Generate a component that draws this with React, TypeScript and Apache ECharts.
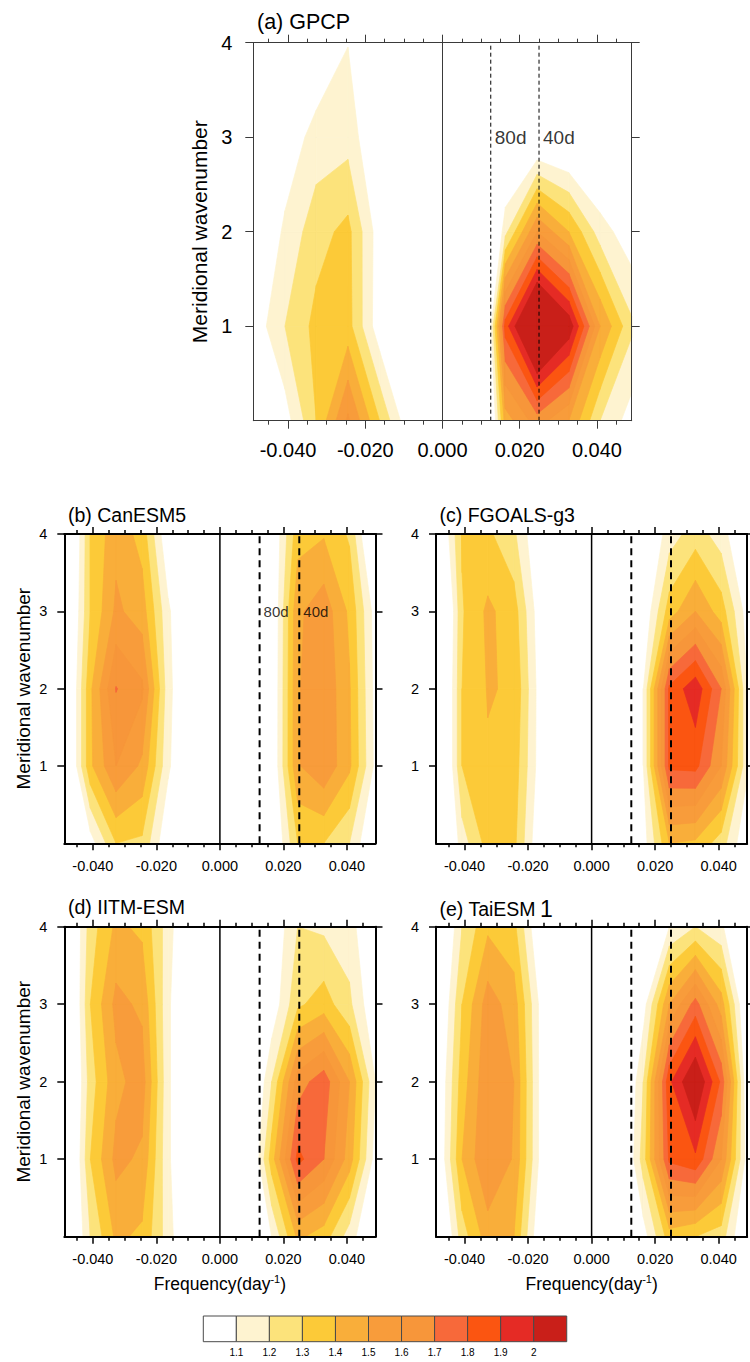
import React, { useEffect, useRef } from "react";
import * as echarts from "echarts";

// ---------------- data ----------------
// frequency grid (day^-1) and meridional wavenumber grid
const freqs = [-0.049, -0.0408, -0.0327, -0.0245, -0.0163, -0.0082, 0, 0.0082, 0.0163, 0.0245, 0.0327, 0.0408, 0.049];
const wavenumbers = [0, 1, 2, 3, 4];

// contour levels and fill colours (colour i fills values between levels[i-1] and levels[i])
const levels = [1.1, 1.2, 1.3, 1.4, 1.5, 1.6, 1.7, 1.8, 1.9, 2.0];
const levelLabels = ["1.1", "1.2", "1.3", "1.4", "1.5", "1.6", "1.7", "1.8", "1.9", "2"];
const bandColors = ["#FFFFFF", "#FEF3D0", "#FCE37B", "#FCCA38", "#F9AE3A", "#F89C3B", "#F7963A", "#F7693A", "#FB5511", "#E52B25", "#C91F19"];

const periods = [80, 40];
const xMajorTicks = [-0.04, -0.02, 0, 0.02, 0.04];
const xMinorTicks = [-0.045, -0.035, -0.03, -0.025, -0.015, -0.01, -0.005, 0.005, 0.01, 0.015, 0.025, 0.03, 0.035, 0.045];
const yTicks = [1, 2, 3, 4];

// power ratio fields: rows = wavenumber 0..4, columns = freqs
const gpcp = [
  [0.90, 1.05, 1.30, 1.62, 1.30, 1.00, 0.80, 0.35, 1.45, 1.65, 1.50, 1.20, 1.05],
  [1.03, 1.20, 1.33, 1.34, 1.03, 0.90, 0.80, 0.20, 1.85, 2.35, 2.08, 1.50, 1.22],
  [0.95, 1.12, 1.26, 1.33, 1.04, 0.90, 0.80, 0.50, 1.17, 1.60, 1.40, 1.15, 1.03],
  [0.90, 1.03, 1.14, 1.16, 0.98, 0.90, 0.80, 0.80, 0.90, 0.94, 0.92, 0.90, 0.90],
  [0.90, 0.95, 1.00, 1.097, 0.95, 0.90, 0.80, 0.80, 0.85, 0.85, 0.85, 0.85, 0.85],
];
const canesm5 = [
  [0.80, 1.05, 1.30, 1.28, 1.00, 0.85, 0.80, 0.80, 0.95, 1.30, 1.30, 1.20, 0.95],
  [0.85, 1.38, 1.60, 1.48, 1.12, 0.90, 0.80, 0.80, 0.98, 1.49, 1.58, 1.42, 1.07],
  [0.85, 1.38, 1.705, 1.62, 1.14, 0.90, 0.80, 0.80, 0.977, 1.49, 1.58, 1.41, 1.06],
  [0.85, 1.30, 1.52, 1.45, 1.12, 0.90, 0.80, 0.80, 0.97, 1.48, 1.56, 1.38, 1.05],
  [0.80, 1.30, 1.47, 1.36, 1.00, 0.90, 0.80, 0.80, 0.98, 1.36, 1.39, 1.285, 0.87],
];
const fgoals = [
  [0.80, 1.15, 1.34, 1.33, 1.00, 0.85, 0.80, 0.85, 1.05, 1.40, 1.38, 1.25, 1.00],
  [0.75, 1.30, 1.39, 1.36, 1.05, 0.90, 0.80, 0.85, 1.10, 1.82, 1.83, 1.60, 1.12],
  [0.75, 1.30, 1.406, 1.39, 1.05, 0.90, 0.80, 0.80, 1.10, 1.82, 1.97, 1.70, 1.10],
  [0.70, 1.29, 1.42, 1.35, 1.03, 0.90, 0.80, 0.80, 1.00, 1.35, 1.50, 1.35, 1.05],
  [0.90, 1.31, 1.32, 1.22, 0.98, 0.90, 0.80, 0.80, 0.95, 1.15, 1.25, 1.15, 0.95],
];
const iitm = [
  [0.85, 1.20, 1.42, 1.38, 1.15, 0.90, 0.80, 0.85, 1.10, 1.42, 1.35, 1.15, 0.95],
  [0.80, 1.30, 1.53, 1.48, 1.12, 0.90, 0.80, 0.85, 1.35, 1.83, 1.70, 1.45, 1.05],
  [0.80, 1.25, 1.47, 1.55, 1.12, 0.90, 0.80, 0.85, 1.20, 1.65, 1.76, 1.50, 1.10],
  [0.80, 1.30, 1.53, 1.48, 1.12, 0.90, 0.80, 0.85, 1.02, 1.28, 1.35, 1.22, 1.00],
  [0.85, 1.25, 1.42, 1.38, 1.15, 0.90, 0.80, 0.85, 1.00, 1.20, 1.18, 1.15, 0.95],
];
const taiesm1 = [
  [0.85, 1.25, 1.45, 1.40, 1.00, 0.90, 0.80, 0.85, 1.05, 1.35, 1.30, 1.25, 0.95],
  [0.95, 1.40, 1.60, 1.49, 1.08, 0.90, 0.80, 0.85, 1.25, 1.82, 1.88, 1.60, 1.05],
  [0.95, 1.35, 1.58, 1.50, 1.08, 0.90, 0.80, 0.85, 1.20, 1.88, 2.12, 1.78, 1.00],
  [0.90, 1.30, 1.55, 1.45, 1.08, 0.90, 0.80, 0.85, 1.05, 1.50, 1.74, 1.45, 0.95],
  [0.85, 1.20, 1.38, 1.33, 0.98, 0.90, 0.80, 0.85, 0.90, 1.10, 1.20, 1.12, 0.90],
];

const FONT = "'Liberation Sans', Arial, Helvetica, sans-serif";

type Panel = {
  title: string;
  values: number[][];
  box: [number, number, number, number];
  titlePos: [number, number];
  big: boolean;
  yName: boolean;
  xName: boolean;
  periodLabels: boolean;
};

const panels: Panel[] = [
  { title: "(a) GPCP", values: gpcp, box: [253.3, 42.7, 378.4, 378], titlePos: [257, 11], big: true, yName: true, xName: false, periodLabels: true },
  { title: "(b) CanESM5", values: canesm5, box: [64.3, 534, 311.2, 309.3], titlePos: [68, 505], big: false, yName: true, xName: false, periodLabels: true },
  { title: "(c) FGOALS-g3", values: fgoals, box: [436, 534, 311.2, 309.3], titlePos: [439.5, 505], big: false, yName: false, xName: false, periodLabels: false },
  { title: "(d) IITM-ESM", values: iitm, box: [64.3, 926.7, 311.2, 310], titlePos: [68, 897], big: false, yName: true, xName: true, periodLabels: false },
  { title: "(e) TaiESM{one|1}", values: taiesm1, box: [436, 926.7, 311.2, 310], titlePos: [439.5, 897], big: false, yName: false, xName: true, periodLabels: false },
];

function contourItems(values: number[][]) {
  const items: number[][] = [];
  levels.forEach((L, li) => {
    for (let j = 0; j < wavenumbers.length - 1; j++) {
      for (let i = 0; i < freqs.length - 1; i++) {
        const c = [values[j][i], values[j][i + 1], values[j + 1][i + 1], values[j + 1][i]];
        if (Math.max(...c) >= L) {
          items.push([(freqs[i] + freqs[i + 1]) / 2, (wavenumbers[j] + wavenumbers[j + 1]) / 2, i, j, li]);
        }
      }
    }
  });
  return items;
}

function makeRenderItem(values: number[][]) {
  return (params: any, api: any) => {
    const i = api.value(2);
    const j = api.value(3);
    const li = api.value(4);
    const L = levels[li];
    const corners = [
      [freqs[i], wavenumbers[j], values[j][i]],
      [freqs[i + 1], wavenumbers[j], values[j][i + 1]],
      [freqs[i + 1], wavenumbers[j + 1], values[j + 1][i + 1]],
      [freqs[i], wavenumbers[j + 1], values[j + 1][i]],
    ];
    const pts: number[][] = [];
    for (let c = 0; c < 4; c++) {
      const a = corners[c];
      const b = corners[(c + 1) % 4];
      const ina = a[2] >= L;
      const inb = b[2] >= L;
      if (ina) pts.push([a[0], a[1]]);
      if (ina !== inb) {
        const t = (L - a[2]) / (b[2] - a[2]);
        pts.push([a[0] + t * (b[0] - a[0]), a[1] + t * (b[1] - a[1])]);
      }
    }
    const color = bandColors[li + 1];
    return {
      type: "polygon",
      shape: { points: pts.map((p) => api.coord(p)) },
      style: { fill: color, stroke: color, lineWidth: 0.7 },
    };
  };
}

function buildOption() {
  const grid: any[] = [];
  const xAxis: any[] = [];
  const yAxis: any[] = [];
  const series: any[] = [];
  const title: any[] = [];

  panels.forEach((p, pi) => {
    const [left, top, width, height] = p.box;
    const st = p.big
      ? { axisColor: "#3a3a3a", axisW: 1, tickMaj: 8, tickMin: 4, tickW: 1, label: 20, yName: 21, title: 21.5, dash: [4, 3], dashW: 1, zeroW: 1, zeroC: "#3a3a3a", per: 19, xMargin: 19, yMargin: 21, yGap: 42 }
      : { axisColor: "#000", axisW: 2, tickMaj: 7, tickMin: 4, tickW: 1.5, label: 14.5, yName: 19, title: 19.5, dash: [7, 5], dashW: 2, zeroW: 1.5, zeroC: "#000", per: 15, xMargin: 15, yMargin: 17, yGap: 31 };

    grid.push({ left, top, width, height, containLabel: false, show: false });

    const xBase = {
      gridIndex: pi,
      type: "value",
      min: -0.049,
      max: 0.049,
      splitLine: { show: false },
      z: 5,
    };
    // bottom major
    xAxis.push({
      ...xBase,
      position: "bottom",
      axisLine: { show: true, onZero: false, lineStyle: { color: st.axisColor, width: st.axisW } },
      axisTick: { show: true, inside: false, length: st.tickMaj, customValues: xMajorTicks, lineStyle: { color: st.axisColor, width: st.tickW } },
      axisLabel: {
        show: true,
        customValues: xMajorTicks,
        formatter: (v: number) => v.toFixed(3),
        fontSize: st.label,
        fontFamily: FONT,
        color: "#000",
        margin: st.xMargin,
      },
      name: p.xName ? "Frequency(day{sup|-1})" : "",
      nameLocation: "middle",
      nameGap: 37,
      nameTextStyle: {
        fontSize: 17.5,
        fontFamily: FONT,
        color: "#000",
        rich: { sup: { fontSize: 11, fontFamily: FONT, color: "#000", padding: [0, 0, 10, 0] } },
      },
    });
    // bottom minor
    xAxis.push({
      ...xBase,
      position: "bottom",
      axisLine: { show: false, onZero: false },
      axisTick: { show: true, inside: false, length: st.tickMin, customValues: xMinorTicks, lineStyle: { color: st.axisColor, width: st.tickW } },
      axisLabel: { show: false },
    });
    // top major
    xAxis.push({
      ...xBase,
      position: "top",
      axisLine: { show: true, onZero: false, lineStyle: { color: st.axisColor, width: st.axisW } },
      axisTick: { show: true, inside: false, length: st.tickMaj, customValues: xMajorTicks, lineStyle: { color: st.axisColor, width: st.tickW } },
      axisLabel: { show: false },
    });
    // top minor
    xAxis.push({
      ...xBase,
      position: "top",
      axisLine: { show: false, onZero: false },
      axisTick: { show: true, inside: false, length: st.tickMin, customValues: xMinorTicks, lineStyle: { color: st.axisColor, width: st.tickW } },
      axisLabel: { show: false },
    });

    const yBase = { gridIndex: pi, type: "value", min: 0, max: 4, splitLine: { show: false }, z: 5 };
    yAxis.push({
      ...yBase,
      position: "left",
      axisLine: { show: true, onZero: false, lineStyle: { color: st.axisColor, width: st.axisW } },
      axisTick: { show: true, inside: false, length: st.tickMaj, customValues: yTicks, lineStyle: { color: st.axisColor, width: st.tickW } },
      axisLabel: { show: true, customValues: yTicks, fontSize: st.label, fontFamily: FONT, color: "#000", margin: st.yMargin },
      name: p.yName ? "Meridional wavenumber" : "",
      nameLocation: "middle",
      nameGap: st.yGap,
      nameTextStyle: { fontSize: st.yName, fontFamily: FONT, color: "#000" },
    });
    yAxis.push({
      ...yBase,
      position: "right",
      axisLine: { show: true, onZero: false, lineStyle: { color: st.axisColor, width: st.axisW } },
      axisTick: { show: true, inside: false, length: st.tickMaj, customValues: yTicks, lineStyle: { color: st.axisColor, width: st.tickW } },
      axisLabel: { show: false },
    });

    const xi = pi * 4;
    const yi = pi * 2;

    series.push({
      type: "custom",
      xAxisIndex: xi,
      yAxisIndex: yi,
      data: contourItems(p.values),
      encode: { x: 0, y: 1 },
      renderItem: makeRenderItem(p.values),
      clip: true,
      silent: true,
      z: 1,
    });

    // zero frequency line
    series.push({
      type: "line",
      xAxisIndex: xi,
      yAxisIndex: yi,
      data: [[0, 0], [0, 4]],
      symbol: "none",
      silent: true,
      lineStyle: { color: st.zeroC, width: st.zeroW },
      z: 4,
    });
    // period lines
    periods.forEach((d) => {
      series.push({
        type: "line",
        xAxisIndex: xi,
        yAxisIndex: yi,
        data: [[1 / d, 0], [1 / d, 4]],
        symbol: "none",
        silent: true,
        lineStyle: { color: "#000", width: st.dashW, type: st.dash },
        z: 4,
      });
    });
    if (p.periodLabels) {
      series.push({
        type: "scatter",
        xAxisIndex: xi,
        yAxisIndex: yi,
        symbolSize: 0,
        silent: true,
        data: periods.map((d) => ({ value: [1 / d, 3], name: d + "d" })),
        label: {
          show: true,
          position: "right",
          distance: 4,
          formatter: "{b}",
          fontSize: st.per,
          fontFamily: FONT,
          color: "#000",
        },
        z: 6,
      });
    }

    title.push({
      text: p.title,
      left: p.titlePos[0],
      top: p.titlePos[1],
      padding: 0,
      textStyle: {
        fontSize: st.title,
        fontWeight: "normal",
        fontFamily: FONT,
        color: "#000",
        rich: { one: { fontSize: 23, fontFamily: FONT, color: "#000", padding: [0, 0, 0, 4] } },
      },
    });
  });

  // colour bar
  const cbLeft = 203.3;
  const cbTop = 1316;
  const cbW = 33.04;
  const cbH = 25.7;
  const graphic: any[] = [];
  bandColors.forEach((c, k) => {
    graphic.push({
      type: "rect",
      shape: { x: cbLeft + k * cbW, y: cbTop, width: cbW, height: cbH },
      style: { fill: c, stroke: "#4a4a4a", lineWidth: 1 },
    });
  });
  levelLabels.forEach((t, k) => {
    graphic.push({
      type: "text",
      x: cbLeft + (k + 1) * cbW,
      y: 1352.5,
      style: { text: t, fontSize: 10, fontFamily: FONT, fill: "#000", align: "center", verticalAlign: "middle" },
    });
  });

  return { animation: false, backgroundColor: "#fff", title, grid, xAxis, yAxis, series, graphic };
}

export default function App() {
  const ref = useRef<HTMLDivElement>(null);
  useEffect(() => {
    document.body.style.margin = "0";
    if (!ref.current) return;
    const chart = echarts.init(ref.current, undefined, { renderer: "svg" });
    chart.setOption(buildOption() as any);
    return () => chart.dispose();
  }, []);
  return <div ref={ref} style={{ width: 750, height: 1362 }} />;
}
